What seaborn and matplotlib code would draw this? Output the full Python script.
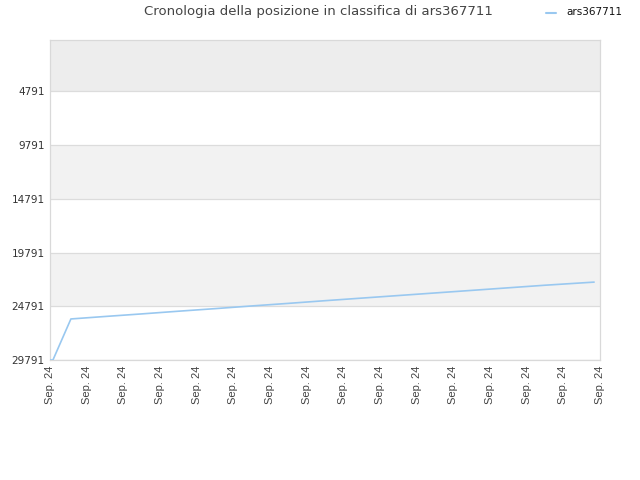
import pandas as pd
import matplotlib.pyplot as plt
import seaborn as sns

sns.set_style("white")
plt.rcParams['font.family'] = ['DejaVu Sans']

# day position along the x axis and rank held at that point
days = [0, 0.08, 0.57, 1.5, 2.5, 3.5, 4.5, 5.5, 6.5, 7.5, 8.5, 9.5,
        10.5, 11.5, 12.5, 13.5, 14.84]
ranks = [29791, 29791, 25970, 25740, 25500, 25250, 25010, 24760, 24520,
         24270, 24030, 23790, 23550, 23310, 23070, 22830, 22540]
tick_labels = ["Sep. 24"] * 16
y_ticks = [4791, 9791, 14791, 19791, 24791, 29791]
player = "ars367711"

df = pd.DataFrame({"day": days, "rank": ranks, "player": player})

fig = plt.figure(figsize=(6.4, 4.8), dpi=100)
ax = fig.add_axes([50 / 640, 1 - 360 / 480, 550 / 640, 320 / 480])

# alternating bands behind the line
ax.axhspan(1, 4791, color="#ededed", zorder=0, lw=0)
for lo, hi in [(9791, 14791), (19791, 24791)]:
    ax.axhspan(lo, hi, color="#f2f2f2", zorder=0, lw=0)
for t in y_ticks:
    ax.axhline(t, color="#dcdcdc", lw=0.9, zorder=1)

sns.lineplot(data=df, x="day", y="rank", hue="player", palette=["#99c8f0"],
             lw=1.2, ax=ax, legend=False, zorder=3)

ax.set_xlim(0, 15)
ax.set_ylim(29791, 1)
ax.set_yticks(y_ticks)
ax.set_yticklabels([str(t) for t in y_ticks], fontsize=7.5, color="#333333")
ax.set_xticks(range(16))
ax.set_xticklabels(tick_labels, rotation=90, fontsize=8, color="#444444",
                   family="Liberation Sans")
ax.tick_params(length=0, pad=4)
ax.set_xlabel("")
ax.set_ylabel("")
for s in ax.spines.values():
    s.set_color("#d9d9d9")
    s.set_linewidth(0.9)

fig.text(318 / 640, 1 - 12 / 480, "Cronologia della posizione in classifica di " + player,
         ha="center", va="center", fontsize=9.5, color="#444444")
fig.add_artist(plt.Line2D([546 / 640, 556 / 640], [1 - 13 / 480, 1 - 13 / 480],
                          color="#99c8f0", lw=1.5))
fig.text(566 / 640, 1 - 12 / 480, player, ha="left", va="center",
         fontsize=7.5, color="#111111")

fig.savefig("out.png", dpi=100)
